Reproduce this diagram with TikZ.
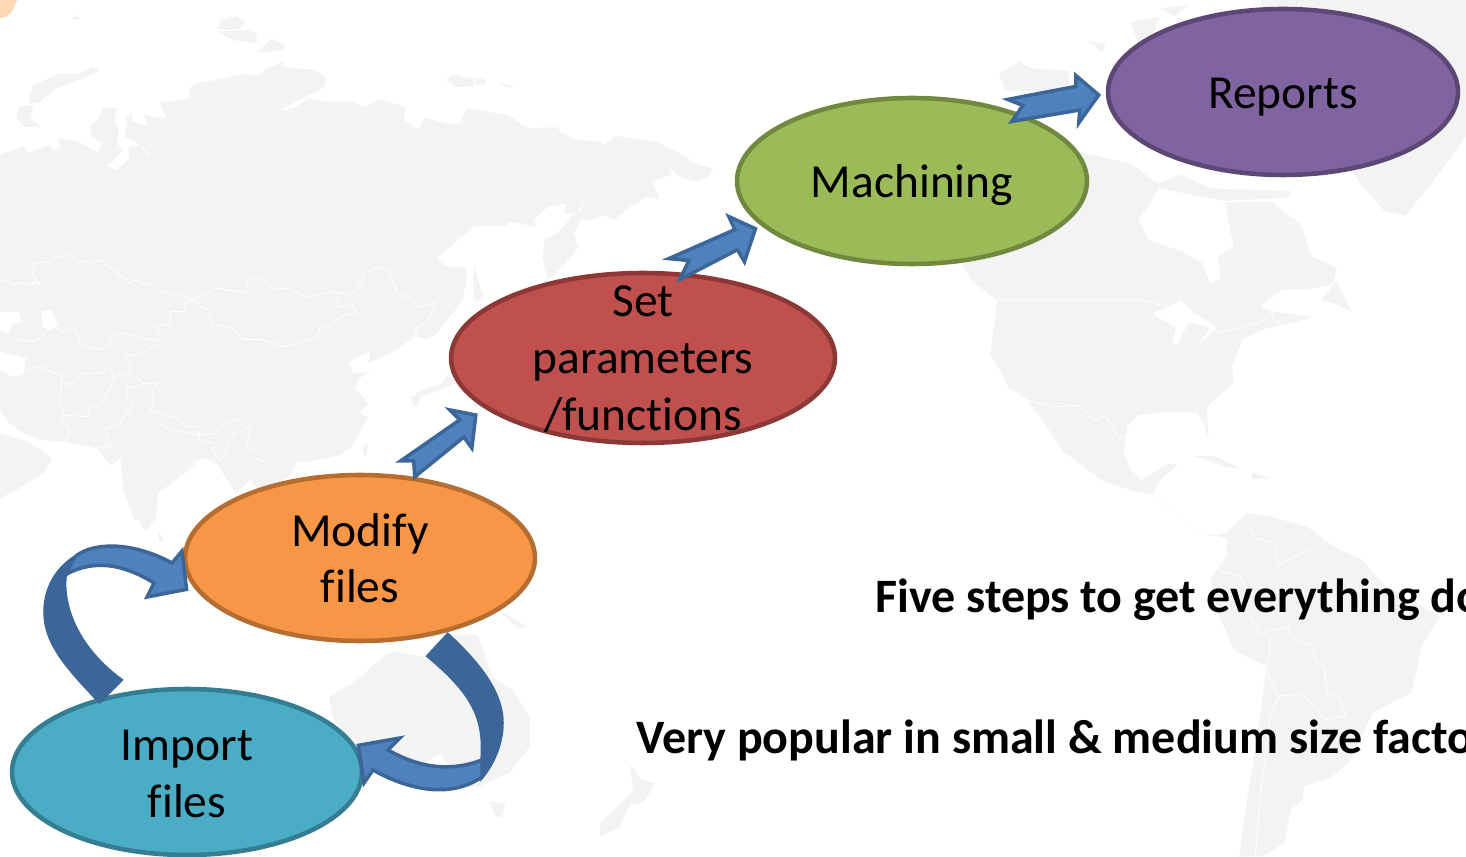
\documentclass[tikz,border=0pt]{standalone}
\usepackage{fontspec}
\setmainfont{Carlito}[Ligatures = NoCommon]
\usetikzlibrary{shapes.geometric,calc}

\definecolor{landgray}{HTML}{F3F3F3}
\definecolor{arrowblue}{HTML}{4F81BD}
\definecolor{arrowdark}{HTML}{3D6698}
\tikzset{
  stepnode/.style = {shape = ellipse, draw, line width = 2.6pt, inner sep = 0pt, align = center, minimum width = 7cm, minimum height = 3.32cm, font = \fontsize{27}{32.3}\selectfont},
  oneline/.style = {text height = 22pt, text depth = 2.7pt},
  twolines/.style = {text depth = -3pt},
  blockarrow/.style = {draw = arrowdark, fill = arrowblue, line width = 2pt, line join = miter},
  twistarrow/.style = {draw = arrowdark, fill = arrowdark, line width = 2pt},
  land/.style = {fill = landgray, draw = none},
  sea/.style = {fill = white, draw = none},
  border/.style = {draw = white, line width = 0.5pt},
  note/.style = {anchor = west, inner sep = 0pt, font = \fontsize{27.3}{32}\bfseries\selectfont}
}

\begin{document}
\begin{tikzpicture}[x = 0.02cm, y = -0.02cm]
\useasboundingbox (0,0) rectangle (1466,857);
\fill[fill = white] (0,0) rectangle (1466,857);
\fill[fill = orange!30!white] (0,0) -- (17,0) -- (12,12) -- (6,17) -- (0,18) -- cycle;

% map, asia side
\begin{scope}[x = 0.00944cm, y = -0.00667cm]
\path[land] (0,465) -- (50,438) -- (60,458) -- (105,435) -- (115,452) -- (128,440) -- (122,415) -- (160,422) -- (208,458) -- (215,430) -- (195,412) -- (190,380) -- (208,358) -- (218,323) -- (248,325) -- (242,362) -- (252,385) -- (248,432) -- (260,448) -- (238,485) -- (220,495) -- (248,510) -- (275,472) -- (272,440) -- (298,437) -- (310,462) -- (320,473) -- (302,440) -- (265,410) -- (270,365) -- (262,362) -- (280,335) -- (280,365) -- (315,380) -- (305,345) -- (372,360) -- (368,405) -- (355,395) -- (358,362) -- (345,335) -- (340,307) -- (405,295) -- (398,270) -- (415,250) -- (478,235) -- (500,225) -- (530,222) -- (545,228) -- (560,212) -- (590,190) -- (605,185) -- (595,195) -- (620,205) -- (665,208) -- (692,235) -- (688,260) -- (590,332) -- (620,325) -- (655,295) -- (690,305) -- (745,305) -- (775,322) -- (800,297) -- (860,320) -- (855,360) -- (885,388) -- (900,353) -- (955,375) -- (975,370) -- (990,325) -- (1080,347) -- (1115,385) -- (1180,382) -- (1190,400) -- (1215,418) -- (1270,425) -- (1280,435) -- (1305,408) -- (1390,425) -- (1450,468) -- (1470,490) -- (1510,505) -- (1500,530) -- (1470,545) -- (1440,530) -- (1420,505) -- (1420,525) -- (1380,545) -- (1398,598) -- (1370,590) -- (1335,620) -- (1300,660) -- (1280,645) -- (1250,660) -- (1230,660) -- (1215,700) -- (1225,740) -- (1210,770) -- (1195,795) -- (1160,840) -- (1148,770) -- (1155,715) -- (1180,700) -- (1215,645) -- (1232,630) -- (1235,598) -- (1225,640) -- (1195,640) -- (1200,612) -- (1160,620) -- (1130,660) -- (1135,680) -- (1080,665) -- (1070,678) -- (1005,678) -- (925,775) -- (945,800) -- (985,800) -- (990,830) -- (978,905) -- (925,1000) -- (905,1018) -- (880,1010) -- (850,1040) -- (810,1070) -- (780,1090) -- (785,1050) -- (735,1090) -- (750,1120) -- (785,1115) -- (760,1135) -- (752,1165) -- (780,1210) -- (762,1240) -- (780,1250) -- (745,1340) -- (720,1365) -- (655,1385) -- (630,1385) -- (610,1430) -- (555,1480) -- (530,1440) -- (500,1480) -- (480,1440) -- (465,1400) -- (440,1375) -- (420,1380) -- (400,1410) -- (335,1480) -- (330,1560) -- (285,1560) -- (262,1470) -- (255,1375) -- (235,1395) -- (205,1345) -- (135,1325) -- (85,1320) -- (50,1300) -- (20,1270) -- (0,1230) -- cycle;
\path[land] (0,1300) -- (60,1325) -- (110,1375) -- (92,1420) -- (40,1465) -- (0,1495) -- cycle;
\path[land] (460,85) -- (470,60) -- (500,48) -- (520,65) -- (510,85) -- (480,90) -- cycle;
\path[land] (460,95) -- (520,90) -- (545,100) -- (540,130) -- (495,120) -- cycle;
\path[land] (575,115) -- (605,135) -- (600,150) -- (545,158) -- cycle;
\path[land] (150,60) -- (160,45) -- (172,55) -- cycle;
\path[land] (70,255) -- (125,222) -- (165,222) -- (195,200) -- (210,210) -- (200,220) -- (120,265) -- (80,310) -- (60,310) -- cycle;
\path[land] (35,352) -- (40,320) -- (70,315) -- (65,350) -- (85,382) -- (50,380) -- cycle;
\path[land] (945,240) -- (960,222) -- (985,235) -- (1000,232) -- (1005,258) -- (965,262) -- cycle;
\path[land] (1005,232) -- (1030,240) -- (1025,252) -- (1008,255) -- cycle;
\path[land] (1050,245) -- (1088,260) -- (1075,263) -- cycle;
\path[land] (1005,795) -- (1012,840) -- (1025,895) -- (1005,905) -- (1002,860) -- cycle;
\path[land] (880,1180) -- (935,1150) -- (950,1120) -- (965,1150) -- (925,1175) -- (885,1190) -- cycle;
\path[land] (870,1190) -- (890,1185) -- (885,1220) -- (875,1220) -- cycle;
\path[land] (772,1332) -- (780,1335) -- (775,1370) -- (767,1350) -- cycle;
\path[sea] (0,1055) -- (55,1075) -- (50,1125) -- (25,1130) -- (0,1110) -- cycle;
\path[sea] (0,935) -- (40,935) -- (45,965) -- (25,975) -- (15,1000) -- (0,990) -- cycle;
\path[sea] (88,935) -- (110,930) -- (122,975) -- (105,990) -- (90,980) -- cycle;
\draw[border] (0,842) -- (20,845) -- (30,855) -- (50,845) -- (60,858) -- (75,845) -- (85,855) -- (70,825) -- (75,805) -- (65,790) -- (105,785) -- (115,772) -- (150,762) -- (165,785) -- (195,787) -- (215,780) -- (275,850) -- (290,838) -- (300,852) -- (325,852) -- (335,872) -- (370,890) -- (382,880) -- (410,900) -- (460,865) -- (522,878) -- (525,845) -- (540,832) -- (570,848) -- (578,868) -- (605,865) -- (652,892) -- (705,873) -- (738,885) -- (752,875) -- (770,838) -- (765,822) -- (800,803) -- (825,817) -- (842,882) -- (875,897) -- (882,922) -- (922,908) -- (905,970) -- (880,983) -- (882,1010) -- (850,1040);
\draw[border] (410,900) -- (425,920) -- (442,930) -- (448,970) -- (495,987) -- (515,1018) -- (555,1018) -- (600,1040) -- (658,1018) -- (675,1003) -- (678,978) -- (695,978) -- (730,945) -- (757,942) -- (745,915) -- (717,922) -- (715,885) -- (725,878);
\draw[border] (410,900) -- (395,907) -- (390,935) -- (363,935) -- (358,970) -- (332,980) -- (340,1010) -- (332,1035) -- (295,1060) -- (265,1070) -- (275,1095) -- (275,1120) -- (305,1150) -- (335,1150) -- (320,1175) -- (327,1200) -- (318,1232) -- (375,1255) -- (395,1280) -- (420,1280) -- (420,1305) -- (460,1300) -- (465,1280) -- (505,1255) -- (515,1280) -- (532,1290) -- (520,1345) -- (540,1350) -- (540,1375) -- (560,1385);
\draw[border] (332,1020) -- (305,1015) -- (255,1000) -- (235,1015) -- (232,1040) -- (200,1050) -- (170,1030) -- (158,985) -- (130,993) -- (105,975) -- (88,1010) -- (75,1025) -- (40,1020);
\draw[border] (305,1150) -- (270,1165) -- (268,1190) -- (280,1210) -- (275,1230) -- (245,1280) -- (220,1285) -- (235,1340) -- (205,1345);
\draw[border] (55,1110) -- (85,1098) -- (130,1128) -- (130,1145) -- (148,1155) -- (172,1120) -- (215,1120) -- (232,1100) -- (242,1130) -- (275,1120);
\draw[border] (130,1145) -- (125,1215) -- (135,1230) -- (128,1250) -- (150,1295) -- (135,1325);
\draw[border] (130,1245) -- (185,1250) -- (190,1222) -- (215,1212) -- (222,1185) -- (235,1165) -- (240,1130);
\draw[border] (335,1265) -- (360,1290) -- (420,1305) -- (425,1325) -- (460,1330) -- (450,1350) -- (465,1385) -- (495,1300) -- (515,1290);
\end{scope}

% map, america side
\begin{scope}[shift = {(900,0)}, x = 0.00722cm, y = -0.01093cm]
\path[land] (1270,330) -- (1340,385) -- (1400,395) -- (1480,330) -- (1568,250) -- (1568,0) -- (1000,0) -- (1000,100) -- cycle;
\path[land] (170,480) -- (200,515) -- (270,550) -- (250,650) -- (280,680) -- (300,710) -- (350,730) -- (400,780) -- (450,825) -- (520,860) -- (560,880) -- (650,900) -- (700,905) -- (770,945) -- (830,975) -- (865,982) -- (905,975) -- (960,940) -- (1020,945) -- (1130,965) -- (1200,1000) -- (1280,1025) -- (1340,1070) -- (1496,1129) -- (1449,1177) -- (1418,1268) -- (1310,1305) -- (1244,1396) -- (1197,1422) -- (1119,1440) -- (1116,1464) -- (1083,1482) -- (1066,1543) -- (1005,1568) -- (940,1568) -- (965,1450) -- (990,1350) -- (1015,1220) -- (925,1190) -- (880,1120) -- (860,1060) -- (905,1020) -- (905,985) -- (830,975) -- (770,945) -- (700,905) -- (720,880) -- (770,850) -- (740,850) -- (670,880) -- (640,860) -- (620,830) -- (630,780) -- (660,760) -- (730,755) -- (820,755) -- (840,770) -- (855,805) -- (850,745) -- (925,700) -- (920,670) -- (950,620) -- (1020,600) -- (1100,590) -- (1140,580) -- (1030,570) -- (1000,560) -- (1060,530) -- (1130,530) -- (1200,520) -- (1210,490) -- (1140,470) -- (1110,410) -- (1030,370) -- (900,370) -- (915,420) -- (925,450) -- (880,470) -- (890,510) -- (860,520) -- (835,480) -- (780,460) -- (690,440) -- (660,400) -- (690,375) -- (720,340) -- (640,300) -- (510,280) -- (300,280) -- cycle;
\path[land] (680,345) -- (780,320) -- (860,345) -- (1085,350) -- (1070,362) -- (900,368) -- (720,345) -- cycle;
\path[land] (1165,550) -- (1210,515) -- (1250,570) -- (1200,555) -- cycle;
\path[land] (520,75) -- (570,80) -- (560,95) -- cycle;
\path[land] (275,135) -- (330,112) -- (360,125) -- (470,130) -- (465,170) -- (290,165) -- cycle;
\path[land] (640,40) -- (720,30) -- (700,70) -- (660,80) -- cycle;
\path[land] (720,15) -- (800,10) -- (760,30) -- cycle;
\path[land] (810,835) -- (870,835) -- (945,858) -- (900,855) -- (840,840) -- cycle;
\path[land] (975,865) -- (1025,875) -- (975,878) -- cycle;
\path[sea] (360,735) -- (450,825) -- (420,815) -- (380,760) -- cycle;
\path[sea] (700,575) -- (780,550) -- (810,570) -- (880,600) -- (830,630) -- (860,600) -- (800,590) -- (770,630) -- (755,630) -- (765,600) -- cycle;
\draw[border] (270,548) -- (660,548) -- (730,560) -- (800,565);
\draw[border] (880,610) -- (1000,590) -- (1030,570) -- (1040,590) -- (1060,590);
\draw[border] (350,732) -- (430,745) -- (495,742) -- (540,770) -- (570,762) -- (605,800) -- (628,800);
\draw[border] (965,965) -- (985,985) -- (1040,995) -- (1045,1035) -- (1090,1020) -- (1140,1005);
\draw[border] (885,1045) -- (940,1055) -- (965,1080) -- (960,1120) -- (1000,1160) -- (1075,1148) -- (1080,1165) -- (1145,1185) -- (1150,1210) -- (1175,1220) -- (1185,1270) -- (1215,1275) -- (1235,1310) -- (1180,1318) -- (1115,1270) -- (1050,1275) -- (1025,1310) -- (1000,1450) -- (990,1530) -- (985,1568);
\draw[border] (1025,1170) -- (1025,1205) -- (1010,1225) -- (1050,1275);
\end{scope}

% map, australia side
\begin{scope}[shift = {(0,520)}, x = 0.00693cm, y = -0.00667cm]
\path[land] (950,530) -- (1020,490) -- (1085,430) -- (1130,395) -- (1230,410) -- (1290,345) -- (1380,345) -- (1420,470) -- (1480,510) -- (1530,590) -- (1530,680) -- (1470,760) -- (1380,800) -- (1340,800) -- (1270,700) -- (1200,745) -- (1010,670) -- (960,590) -- cycle;
\path[land] (1415,845) -- (1460,850) -- (1450,890) -- (1430,890) -- cycle;
\path[land] (1440,270) -- (1520,320) -- (1495,325) -- cycle;
\path[land] (400,0) -- (445,0) -- (420,35) -- cycle;
\path[land] (455,25) -- (475,65) -- (460,65) -- cycle;
\end{scope}
\path[land] (630,765) -- (641,780) -- (655,783) -- (644,802) -- (630,805) -- (619,827) -- (600,837) -- (600,823) -- (622,803) -- (633,790) -- cycle;

\node[stepnode, text depth = -5pt, text height = 52pt, fill = {rgb,255:red,75;green,172;blue,198}, draw = {rgb,255:red,53;green,125;blue,145}] (import) at (187,772) {Import\\files};
\node[stepnode, twolines, fill = {rgb,255:red,247;green,150;blue,70}, draw = {rgb,255:red,182;green,109;blue,49}] (modify) at (360,558) {Modify\\files};
\node[stepnode, fill = {rgb,255:red,192;green,80;blue,77}, draw = {rgb,255:red,140;green,56;blue,54}, minimum width = 7.68cm, minimum height = 3.4cm, inner ysep = -1cm, text depth = -5pt, font = \fontsize{27}{32.6}\selectfont] (set) at (643,358) {Set\\parameters\\/functions};
\node[stepnode, oneline, fill = {rgb,255:red,155;green,187;blue,89}, draw = {rgb,255:red,113;green,137;blue,63}] (machining) at (912,181) {Machining};
\node[stepnode, oneline, fill = {rgb,255:red,128;green,100;blue,162}, draw = {rgb,255:red,92;green,71;blue,118}] (reports) at (1283,92) {Reports};

\draw[blockarrow] (modify.56) -- ++(-1,-16) -- ++(-13,0) -- ++(59,-41) -- ++(-10,-10) -- ($(set.199)+(-13,4)$) -- ++(-4,33) -- ++(-8,-11) -- cycle;
\draw[blockarrow] (set.65) ++(-3,7) -- ++(9,-19) -- ++(-20,-2) -- ++(66,-29) -- ++(-6,-13) -- ($(machining.197)+(-7,2)$) -- ++(-11,33) -- ++(-7,-12) -- cycle;
\draw[blockarrow] (machining.31) ++(-11,7) -- ++(11,-16) -- ++(-15,-6) -- ++(68,-13) -- ++(0,-11) -- ($(reports.west)+(-7,3)$) -- ++(-20,28) -- ++(1,-13) -- cycle;

% looped arrows, the dark band goes under the head
\draw[twistarrow] (import.141) ++(3,3) .. controls (70,670) and (45,645) .. (45,612) .. controls (45,590) and (55,570) .. (75,557) -- (65,577) .. controls (62,610) and (80,650) .. (121,680) -- cycle;
\draw[blockarrow] (65,575) -- (75,557) .. controls (90,543) and (130,540) .. (172,563) -- (182,551) -- ($(modify.190)+(-7,2)$) -- (147,597) -- (154,583) .. controls (125,565) and (95,558) .. (65,575) -- cycle;
\draw[twistarrow] (modify.319) ++(2,2) .. controls (475,660) and (502,690) .. (502,723) .. controls (502,745) and (492,765) .. (482,777) -- (482,760) .. controls (485,720) and (475,695) .. (428,656) -- cycle;
\draw[blockarrow] (482,760) .. controls (450,772) and (420,768) .. (388,750) -- (400,738) -- ($(import.9)+(3,0)$) -- (364,783) -- (373,770) .. controls (400,785) and (445,802) .. (482,777) -- cycle;

\node[note] (fivesteps) at (875,599.5) {Five steps to get everything do};
\node[note] (popular) at (636,740) {Very popular in small \& medium size facto};
\end{tikzpicture}
\end{document}
